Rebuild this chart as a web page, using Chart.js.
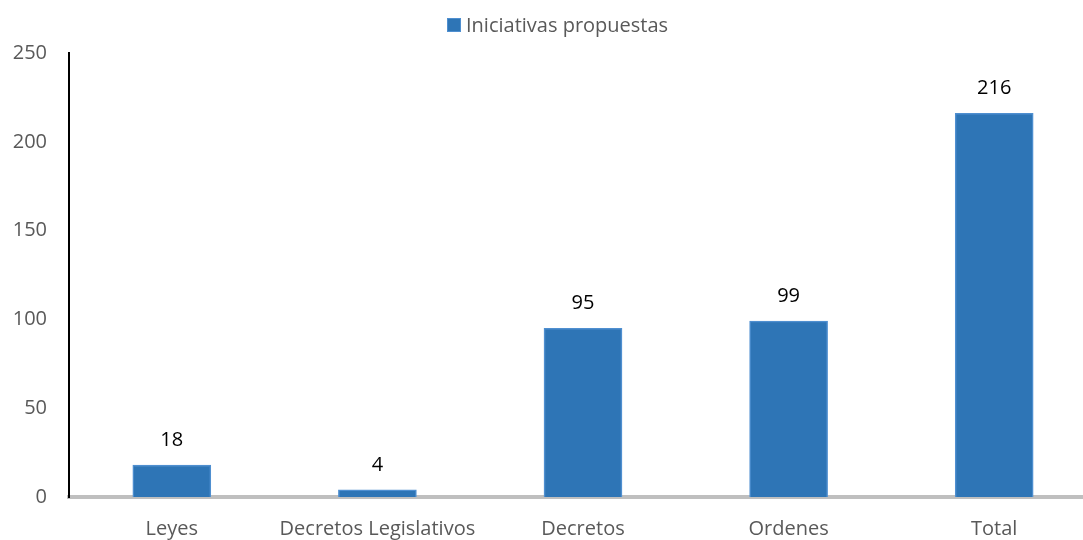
<!DOCTYPE html>
<html>
<head>
<meta charset="utf-8">
<script src="https://cdn.jsdelivr.net/npm/chart.js@4"></script>
<style>
  html, body { margin: 0; padding: 0; background: #fff; overflow: hidden; }
  #wrap { position: relative; width: 1110px; height: 540px; }
</style>
</head>
<body>
<div id="wrap"><canvas id="iniciativasChart"></canvas></div>
<script>
const categories = ["Leyes", "Decretos Legislativos", "Decretos", "Ordenes", "Total"];
const iniciativas = [18, 4, 95, 99, 216];
const yTicks = [0, 50, 100, 150, 200, 250];
const seriesName = 'Iniciativas propuestas';

const fontFamily = "'Open Sans', 'Noto Sans', sans-serif";
const barBlue = '#2E75B6';
const barEdge = '#4F8FD0';

// numbers above each bar + the small legend on top
const valueLabels = {
    id: 'valueLabels',
    afterDatasetsDraw(chart) {
        const ctx = chart.ctx;
        const meta = chart.getDatasetMeta(0);
        ctx.save();
        ctx.font = "20px " + fontFamily;
        ctx.fillStyle = '#000000';
        ctx.textAlign = 'center';
        ctx.textBaseline = 'middle';
        meta.data.forEach((bar, i) => {
            ctx.fillText(String(iniciativas[i]), bar.x, bar.y - 25);
        });

        // legend
        ctx.font = "20px " + fontFamily;
        const textW = ctx.measureText(seriesName).width;
        const boxX = 447, cy = 25;
        ctx.fillStyle = barBlue;
        ctx.fillRect(boxX, cy - 7, 14, 14);
        ctx.strokeStyle = barEdge;
        ctx.lineWidth = 1;
        ctx.strokeRect(boxX + 0.5, cy - 6.5, 13, 13);
        ctx.fillStyle = '#595959';
        ctx.textAlign = 'left';
        ctx.fillText(seriesName, boxX + 19, cy + 1);
        ctx.restore();
    }
};

new Chart("iniciativasChart", {
    type: 'bar',
    data: {
        labels: categories,
        datasets: [{
            label: seriesName,
            data: iniciativas,
            backgroundColor: barBlue,
            borderColor: barEdge,
            borderWidth: 1.5,
            barThickness: 78
        }]
    },
    options: {
        responsive: true,
        maintainAspectRatio: false,
        animation: false,
        layout: { padding: { top: 53, right: 13, left: 0, bottom: 0 } },
        plugins: {
            legend: { display: false },
            tooltip: { enabled: false }
        },
        scales: {
            x: {
                grid: { display: false, drawTicks: false },
                border: { display: true, color: '#BFBFBF', width: 4 },
                ticks: {
                    color: '#595959',
                    padding: 20,
                    maxRotation: 0,
                    autoSkip: false,
                    font: { family: fontFamily, size: 20 }
                },
                afterFit(scale) { scale.height = 43; }
            },
            y: {
                min: 0,
                max: 250,
                afterBuildTicks(scale) {
                    scale.ticks = yTicks.map(v => ({ value: v }));
                },
                grid: { display: false, drawTicks: false },
                border: { display: true, color: '#000000', width: 2 },
                ticks: {
                    color: '#595959',
                    padding: 22,
                    font: { family: fontFamily, size: 20 }
                },
                afterFit(scale) { scale.width = 69; }
            }
        }
    },
    plugins: [valueLabels]
});
</script>
</body>
</html>
